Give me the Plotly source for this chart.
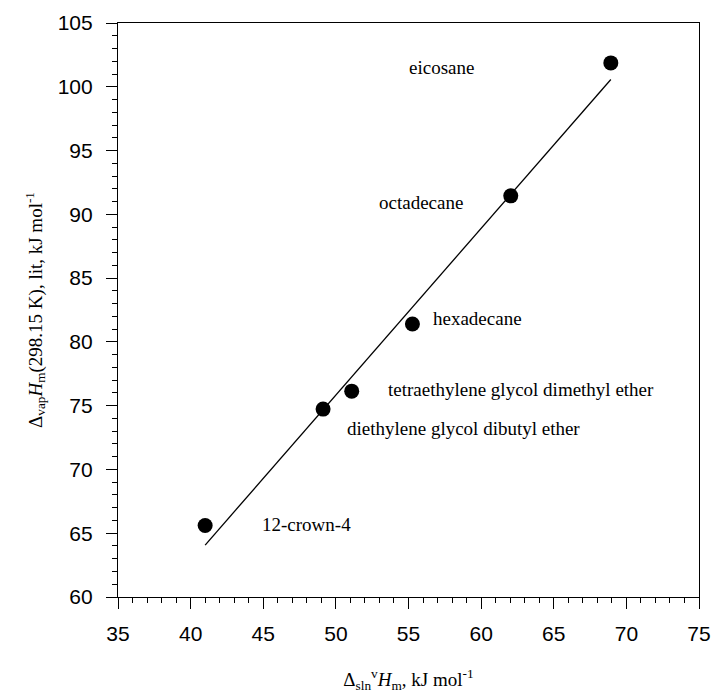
import plotly.graph_objects as go

# Data
compounds = ["12-crown-4", "diethylene glycol dibutyl ether",
             "tetraethylene glycol dimethyl ether", "hexadecane",
             "octadecane", "eicosane"]
x_vals = [41.0, 49.12, 51.09, 55.27, 62.04, 68.93]
y_vals = [65.6, 74.73, 76.14, 81.4, 91.45, 101.87]
fit_x = [41.0, 68.93]
fit_y = [64.07, 100.57]
label_x = [44.78, 50.63, 53.46, 56.56, 52.85, 54.9]
label_y = [65.72, 73.22, 76.28, 81.84, 90.93, 101.5]
x_ticks = [35, 40, 45, 50, 55, 60, 65, 70, 75]
y_ticks = [60, 65, 70, 75, 80, 85, 90, 95, 100, 105]

fig = go.Figure()
fig.add_trace(go.Scatter(x=fit_x, y=fit_y, mode="lines",
                         line=dict(color="black", width=1.3),
                         showlegend=False, hoverinfo="skip"))
fig.add_trace(go.Scatter(x=x_vals, y=y_vals, mode="markers",
                         marker=dict(color="black", size=15),
                         text=compounds, showlegend=False))

for name, lx, ly in zip(compounds, label_x, label_y):
    fig.add_annotation(x=lx, y=ly, text=name, showarrow=False,
                       xanchor="left", yanchor="middle",
                       font=dict(family="Liberation Serif", size=19, color="black"))

axis_common = dict(showgrid=False, zeroline=False, showline=True,
                   linecolor="black", linewidth=1.2, mirror=True,
                   automargin=False,
                   ticks="outside", ticklen=11, tickwidth=1, tickcolor="black",
                   tickfont=dict(family="Liberation Sans", size=21, color="black"),
                   minor=dict(dtick=1, ticks="outside", ticklen=5,
                              tickwidth=1, tickcolor="black", showgrid=False))

fig.update_xaxes(range=[35, 75], tickvals=x_ticks, ticklabelstandoff=7, **axis_common,
                 title=dict(text="Δ<sub>sln</sub><sup>v</sup><i>H</i><sub>m</sub>, kJ mol<sup>-1</sup>",
                            font=dict(family="Liberation Serif", size=19, color="black"),
                            standoff=28))
fig.update_yaxes(range=[60, 105], tickvals=y_ticks, ticklabelstandoff=9, **axis_common,
                 title=dict(text="Δ<sub>vap</sub><i>H</i><sub>m</sub>(298.15 K), lit, kJ mol<sup>-1</sup>",
                            font=dict(family="Liberation Serif", size=19, color="black"),
                            standoff=10))

fig.update_layout(width=712, height=695,
                  margin=dict(l=118, r=13, t=23, b=98),
                  plot_bgcolor="white", paper_bgcolor="white")

fig.write_html("out.html",
               config={"displayModeBar": False},
               post_script="document.body.style.margin='0';"
                           "document.documentElement.style.overflow='hidden';")
